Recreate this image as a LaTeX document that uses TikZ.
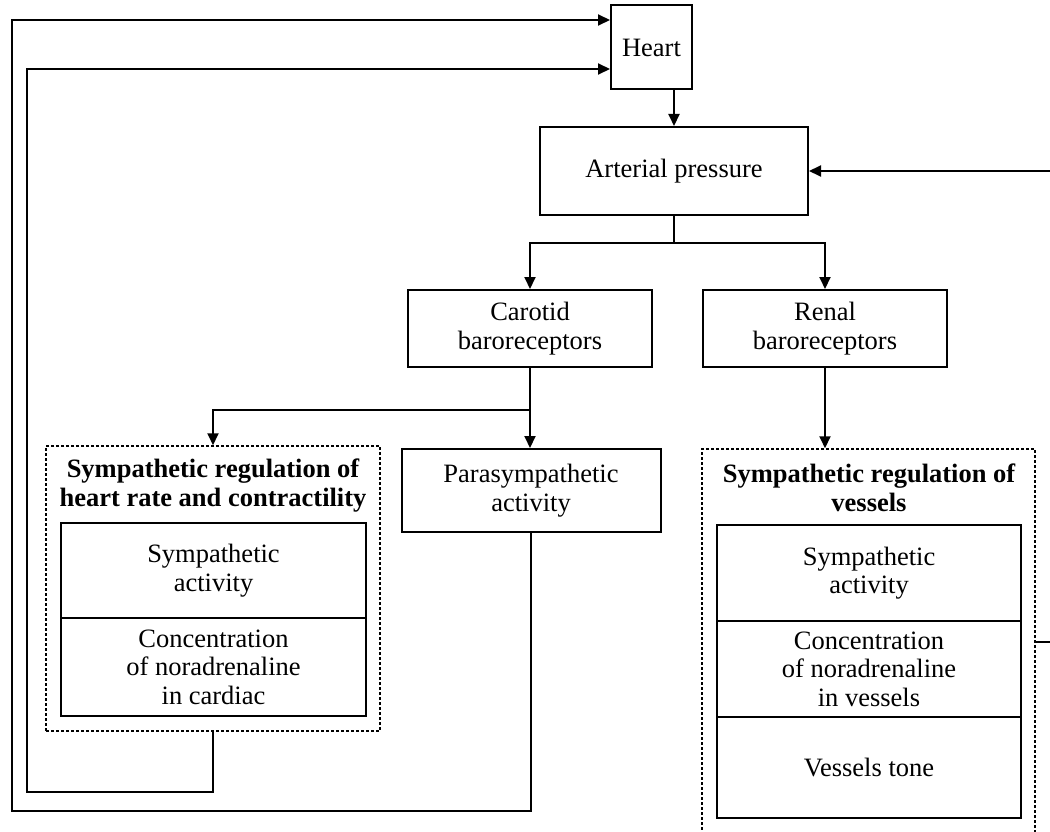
\documentclass[tikz,border=0pt]{standalone}
\usepackage{fontspec}
\setmainfont{Liberation Serif}
\usetikzlibrary{arrows.meta,calc}
\begin{document}
\begin{tikzpicture}[x=1pt,y=-1pt,
  every node/.style={font=\fontsize{26.5}{28.5}\selectfont, align=center, inner sep=0pt},
  box/.style={draw, line width=2pt, minimum width=#1},
  dbox/.style={draw, line width=1.5pt, dash pattern=on 3pt off 2pt},
  conn/.style={line width=2pt},
  arr/.style={line width=2pt, -{Triangle[length=12pt,width=11pt]}},
  ttl/.style={font=\fontsize{26.5}{29}\selectfont\bfseries}
]
\useasboundingbox (0,0) rectangle (1050,832);
% main boxes
\node[box=81pt, minimum height=84pt] (heart) at (651.5,47.5) {Heart};
\node[box=268pt, minimum height=88pt] (ap) at (674,171) {Arterial pressure};
\node[box=244pt, minimum height=77pt] (car) at (530,328.5) {Carotid\\baroreceptors};
\node[box=244pt, minimum height=77pt] (ren) at (825,328.5) {Renal\\baroreceptors};
\node[box=259pt, minimum height=83pt] (para) at (531,490.5) {Parasympathetic\\activity};
% left group
\node[dbox, minimum width=334pt, minimum height=285pt] (ld) at (213,588.5) {};
\node[ttl] (lt) at (213,486) {Sympathetic regulation of\\heart rate and contractility};
\node[box=305pt, minimum height=95pt] (l1) at (213.5,570.5) {Sympathetic\\activity};
\node[box=305pt, minimum height=98pt] (l2) at (213.5,667) {Concentration\\of noradrenaline\\in cardiac};
% right group
\node[dbox, minimum width=333pt, minimum height=396pt] (rd) at (868.5,647) {};
\node[ttl] (rt) at (869,488) {Sympathetic regulation of\\vessels};
\node[box=304pt, minimum height=96pt] (r1) at (869,573) {Sympathetic\\activity};
\node[box=304pt, minimum height=96pt] (r2) at (869,669) {Concentration\\of noradrenaline\\in vessels};
\node[box=304pt, minimum height=101pt] (r3) at (869,767.5) {Vessels tone};
% coordinates
\coordinate (j1) at (674,243);
\coordinate (j2) at (530,410);
\coordinate (pb) at (531,811);
\coordinate (lb) at (213,792);
\coordinate (outer) at (12,811);
\coordinate (inner) at (27,792);
\coordinate (rin) at (1050,171);
\coordinate (rout) at (1050,642);
% connectors
\draw[arr] (ap.north |- heart.south) -- (ap.north);
\draw[conn] (ap.south) -- (j1);
\draw[arr] (j1) -| (car.north);
\draw[arr] (j1) -| (ren.north);
\draw[conn] (car.south) -- (j2);
\draw[arr] (j2) -| (ld.north);
\draw[arr] (j2) -- (para.north -| j2);
\draw[arr] (ren.south) -- (rd.north -| ren.south);
\draw[arr] (para.south) -- (pb) -- (outer) |- ([yshift=27.5pt]heart.west);
\draw[arr] (ld.south) -- (lb) -- (inner) |- ([yshift=-21.5pt]heart.west);
\draw[arr] (rin) -- (ap.east);
\draw[conn] (rd.east |- rout) -- (rout);
\end{tikzpicture}
\end{document}
